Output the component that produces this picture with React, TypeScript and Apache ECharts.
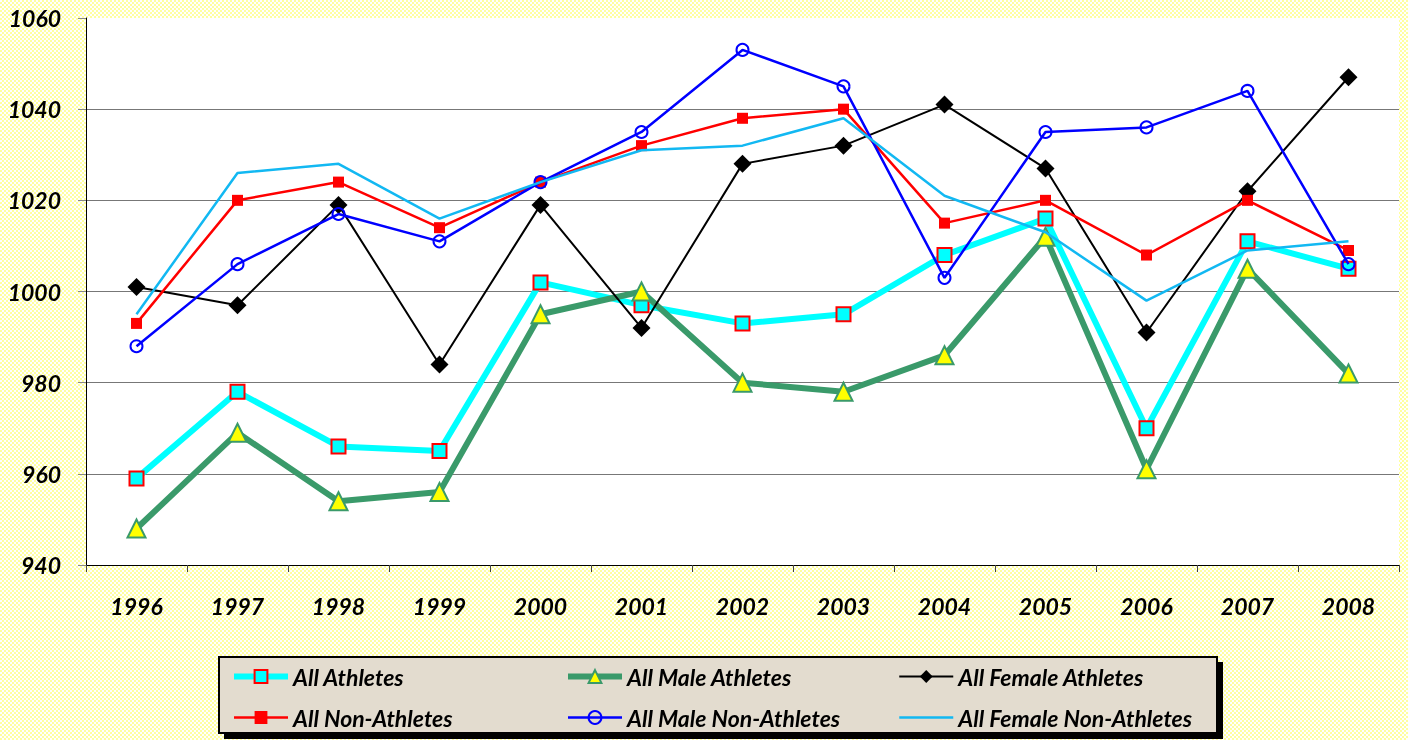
import React, { useEffect, useRef } from "react";
import * as echarts from "echarts";

const years = ["1996","1997","1998","1999","2000","2001","2002","2003","2004","2005","2006","2007","2008"];
const allAthletes = [959, 978, 966, 965, 1002, 997, 993, 995, 1008, 1016, 970, 1011, 1005];
const maleAthletes = [948, 969, 954, 956, 995, 1000, 980, 978, 986, 1012, 961, 1005, 982];
const femaleAthletes = [1001, 997, 1019, 984, 1019, 992, 1028, 1032, 1041, 1027, 991, 1022, 1047];
const nonAthletes = [993, 1020, 1024, 1014, 1024, 1032, 1038, 1040, 1015, 1020, 1008, 1020, 1009];
const maleNonAthletes = [988, 1006, 1017, 1011, 1024, 1035, 1053, 1045, 1003, 1035, 1036, 1044, 1006];
const femaleNonAthletes = [995, 1026, 1028, 1016, 1024, 1031, 1032, 1038, 1021, 1013, 998, 1009, 1011];

const FONT = "Lato, 'Open Sans', sans-serif";
const LEGEND_FONT = "Lato, 'Open Sans', sans-serif";

export default function App() {
  const ref = useRef<HTMLDivElement>(null);
  useEffect(() => {
    if (!ref.current) return;
    const chart = echarts.init(ref.current, null, { renderer: "svg" });
    const legendText = { fontFamily: LEGEND_FONT, fontSize: 23, fontWeight: "bold", fontStyle: "italic", color: "#000", lineHeight: 22 };
    const legendCommon = {
      orient: "vertical",
      top: 665,
      itemWidth: 54,
      itemHeight: 16,
      itemGap: 18,
      padding: 0,
      textStyle: legendText,
      selectedMode: false,
      lineStyle: { width: "inherit" },
    };
    const axisFont = { fontFamily: FONT, fontSize: 23, fontWeight: "bold", fontStyle: "italic", color: "#000" };
    chart.setOption({
      animation: false,
      backgroundColor: "transparent",
      grid: { left: 86, right: 9, top: 18, bottom: 175, show: true, backgroundColor: "#ffffff", borderWidth: 0 },
      graphic: [
        { type: "rect", shape: { x: 224, y: 662, width: 999, height: 77 }, style: { fill: "#000" }, z: 0 },
        { type: "rect", shape: { x: 219, y: 657, width: 998, height: 76 }, style: { fill: "#E3DCCF", stroke: "#000", lineWidth: 2 }, z: 1 },
      ],
      legend: [
        { ...legendCommon, left: 231, data: ["All Athletes", "All Non-Athletes"] },
        { ...legendCommon, left: 565, data: ["All Male Athletes", "All Male Non-Athletes"] },
        { ...legendCommon, left: 898, data: ["All Female Athletes", "All Female Non-Athletes"] },
      ],
      xAxis: {
        type: "category",
        data: years,
        boundaryGap: true,
        axisLine: { lineStyle: { color: "#000", width: 1 } },
        axisTick: { show: true, length: 7, lineStyle: { color: "#444" } },
        axisLabel: { margin: 29, ...axisFont },
        splitLine: { show: false },
      },
      yAxis: {
        type: "value",
        min: 940,
        max: 1060,
        interval: 20,
        axisLine: { show: true, lineStyle: { color: "#000", width: 1 } },
        axisTick: { show: true, length: 8, lineStyle: { color: "#888" } },
        axisLabel: { margin: 25, formatter: (v: number) => String(v), ...axisFont },
        splitLine: { show: true, lineStyle: { color: ["#777", "#777", "#777", "#777", "#777", "#777", "rgba(0,0,0,0)"], width: 1 } },
      },
      series: [
        {
          name: "All Athletes", type: "line", data: allAthletes,
          symbol: "rect", symbolSize: 14,
          lineStyle: { color: "#00FFFF", width: 6 },
          itemStyle: { color: "#00FFFF", borderColor: "#FF0000", borderWidth: 2 },
          z: 2,
        },
        {
          name: "All Male Athletes", type: "line", data: maleAthletes,
          symbol: "triangle", symbolSize: 18,
          lineStyle: { color: "#3A9A6A", width: 6 },
          itemStyle: { color: "#FFFF00", borderColor: "#3A9A6A", borderWidth: 2 },
          z: 3,
        },
        {
          name: "All Female Athletes", type: "line", data: femaleAthletes,
          symbol: "diamond", symbolSize: 18,
          lineStyle: { color: "#000000", width: 2 },
          itemStyle: { color: "#000000", borderColor: "#000000", borderWidth: 0 },
          z: 4,
        },
        {
          name: "All Non-Athletes", type: "line", data: nonAthletes,
          symbol: "rect", symbolSize: 11,
          lineStyle: { color: "#FF0000", width: 2.5 },
          itemStyle: { color: "#FF0000", borderWidth: 0 },
          z: 5,
        },
        {
          name: "All Male Non-Athletes", type: "line", data: maleNonAthletes,
          symbol: "circle", symbolSize: 12,
          lineStyle: { color: "#0000FF", width: 2.5 },
          itemStyle: { color: "rgba(255,255,255,0)", borderColor: "#0000FF", borderWidth: 2 },
          z: 6,
        },
        {
          name: "All Female Non-Athletes", type: "line", data: femaleNonAthletes,
          symbol: "circle", showSymbol: false,
          lineStyle: { color: "#12B8F2", width: 2.5 },
          itemStyle: { color: "rgba(0,0,0,0)", borderColor: "rgba(0,0,0,0)", borderWidth: 0 },
          z: 7,
        },
      ],
    });
    return () => chart.dispose();
  }, []);
  return (
    <div
      ref={ref}
      style={{
        position: "fixed",
        left: 0,
        top: 0,
        width: 1408,
        height: 740,
        background: "repeating-conic-gradient(#ffffa0 0% 25%, #ffffff 0% 50%) 0 0 / 4px 4px",
      }}
    />
  );
}
